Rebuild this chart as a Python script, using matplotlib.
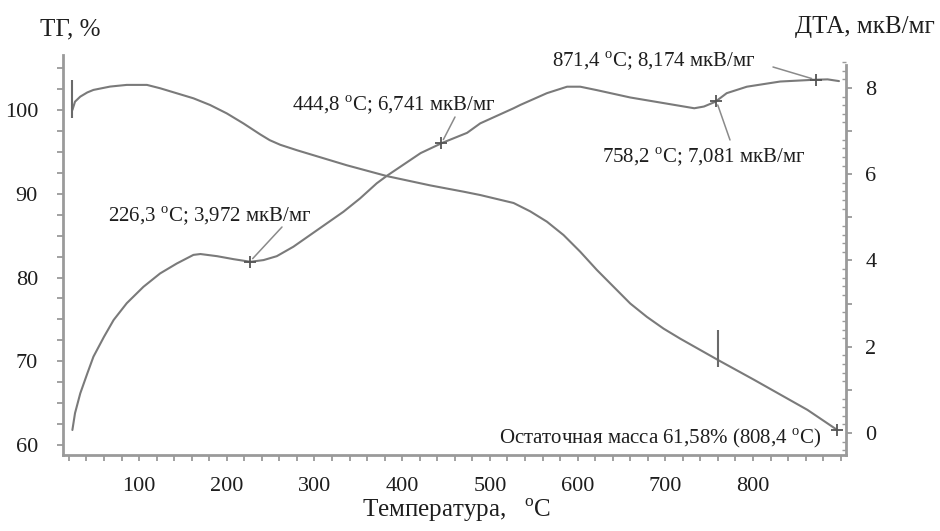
import numpy as np
import matplotlib
matplotlib.use("Agg")
import matplotlib.pyplot as plt
from matplotlib.ticker import MultipleLocator, FuncFormatter

plt.rcParams['font.family'] = ['Liberation Serif', 'DejaVu Serif']
plt.rcParams['mathtext.fontset'] = 'custom'
plt.rcParams['mathtext.rm'] = 'Liberation Serif'

# ---- data ----
T_tg = [24, 27, 33, 41, 48, 67, 86, 109, 124, 162, 181, 200, 219, 238, 249, 261,
        280, 299, 337, 383, 432, 470, 489, 527, 546, 565, 584, 603, 622, 641,
        660, 679, 698, 717, 761, 801, 862, 896]
tg = [100.0, 101.0, 101.6, 102.1, 102.4, 102.8, 103.0, 103.0, 102.6, 101.4,
      100.6, 99.6, 98.4, 97.1, 96.4, 95.85, 95.2, 94.6, 93.4, 92.1, 91.0,
      90.25, 89.85, 88.9, 87.9, 86.67, 85.07, 83.08, 80.9, 78.9, 76.9, 75.3,
      73.9, 72.7, 70.1, 67.8, 64.2, 61.8]

T_dta = [24, 27, 33, 41, 48, 60, 71, 86, 105, 124, 143, 162, 170, 189, 208,
         227, 242, 257, 276, 295, 314, 333, 352, 371, 383, 421, 446, 474, 489,
         527, 535, 565, 588, 603, 622, 660, 698, 733, 744, 757, 770, 793, 831,
         869, 885, 898]
dta = [0.07, 0.46, 0.92, 1.38, 1.77, 2.23, 2.62, 3.01, 3.39, 3.70, 3.93, 4.13,
       4.15, 4.10, 4.03, 3.97, 4.01, 4.10, 4.32, 4.59, 4.86, 5.13, 5.44, 5.79,
       5.97, 6.49, 6.73, 6.96, 7.18, 7.53, 7.61, 7.88, 8.03, 8.03, 7.95, 7.78,
       7.65, 7.53, 7.57, 7.68, 7.88, 8.03, 8.15, 8.19, 8.20, 8.16]

dta_peak_T = [226.3, 444.8, 758.2, 871.4]
dta_peak_labels = ["226,3 $^{\\rm o}$C; 3,972 мкВ/мг",
                   "444,8 $^{\\rm o}$C; 6,741 мкВ/мг",
                   "758,2 $^{\\rm o}$C; 7,081 мкВ/мг",
                   "871,4 $^{\\rm o}$C; 8,174 мкВ/мг"]
tg_step_T = [24, 760]
residual_T = 896
residual_label = "Остаточная масса 61,58% (808,4 $^{\\rm o}$C)"

x_ticks = [100, 200, 300, 400, 500, 600, 700, 800]
tg_ticks = [60, 70, 80, 90, 100]
dta_ticks = [0, 1, 2, 3, 4, 5, 6, 7, 8]

# ---- figure ----
W, H = 940, 531
fig = plt.figure(figsize=(W / 100, H / 100), dpi=100)
ax = fig.add_axes([63 / W, 1 - 455 / H, (846 - 63) / W, (455 - 55) / H])
ax2 = ax.twinx()

curve_c = '#7a7a7a'
spine_c = '#9a9a9a'
text_c = '#1e1e1e'

ax.set_xlim(13.3, 906)
ax.set_ylim(58.81, 106.57)
ax2.set_ylim(-0.51, 8.765)

ax.plot(T_tg, tg, color=curve_c, lw=1.5, solid_capstyle='round', solid_joinstyle='round')
ax2.plot(T_dta, dta, color=curve_c, lw=1.5, solid_capstyle='round', solid_joinstyle='round')

# vertical step markers on TG
for t in tg_step_T:
    v = np.interp(t, T_tg, tg)
    ax.vlines(t, v - 0.9, v + 3.6, color='#6a6a6a', lw=1.5)

# + markers on DTA
pk_vals = [np.interp(t, T_dta, dta) for t in dta_peak_T]
ax2.plot(dta_peak_T, pk_vals, ls='none', marker='+', ms=8, mew=1.3, color='#555555')
rv = np.interp(residual_T, T_tg, tg)
ax.plot([residual_T], [rv], ls='none', marker='+', ms=8, mew=1.3, color='#555555')

# spines
for s in ['top', 'right']:
    ax.spines[s].set_visible(False)
for s in ['top', 'left', 'bottom']:
    ax2.spines[s].set_visible(False)
for sp in [ax.spines['left'], ax.spines['bottom'], ax2.spines['right']]:
    sp.set_color(spine_c)
    sp.set_linewidth(2.0)
ax2.spines['right'].set_bounds(-0.51, 8.53)

# ticks
ax.set_xticks(x_ticks)
ax.xaxis.set_minor_locator(MultipleLocator(20))
ax.set_yticks(tg_ticks)
ax.yaxis.set_minor_locator(MultipleLocator(2.5))
ax.tick_params(axis='both', which='both', direction='out', color=spine_c,
               width=1.3, labelsize=16, labelcolor=text_c)
ax.tick_params(axis='both', which='major', length=4)
ax.tick_params(axis='both', which='minor', length=4)
ax.tick_params(axis='x', pad=12)
ax.tick_params(axis='y', pad=14)

ax2.set_yticks(dta_ticks)
ax2.yaxis.set_major_formatter(FuncFormatter(lambda v, p: f"{int(round(v))}" if int(round(v)) % 2 == 0 else ""))
ax2.yaxis.set_minor_locator(MultipleLocator(0.2))
ax2.tick_params(axis='y', which='major', direction='out', length=4, width=1.3,
                color=spine_c, labelsize=16, labelcolor=text_c, pad=10)
ax2.tick_params(axis='y', which='minor', direction='in', length=3, width=1.0,
                color=spine_c)

# axis titles
fig.text(40, H - 35, "ТГ, %", fontsize=18, color=text_c,
         transform=None, ha='left', va='baseline')
fig.text(935, H - 33, "ДТА, мкВ/мг", fontsize=18, color=text_c,
         transform=None, ha='right', va='baseline')
fig.text(457, H - 517, "Температура,   $^{\\rm o}$C", fontsize=18, color=text_c,
         transform=None, ha='center', va='baseline')

# annotations (text position in pixels, leader to the data point)
text_px = [(108, 221), (292, 110), (602, 162), (552, 66)]
lead_px = [(282, 227), (455, 117), (730, 140), (773, 67)]
for t, v, lab, (tx, ty), (lx, ly) in zip(dta_peak_T, pk_vals, dta_peak_labels, text_px, lead_px):
    fig.text(tx, H - ty, lab, fontsize=15, color=text_c, transform=None,
             ha='left', va='baseline')
    ax2.annotate('', xy=(t, v), xycoords='data',
                 xytext=(lx, H - ly), textcoords='figure pixels',
                 arrowprops=dict(arrowstyle='-', color='#8a8a8a', lw=1.1,
                                 shrinkA=0, shrinkB=3))

fig.text(821, H - 443, residual_label, fontsize=15, color=text_c,
         transform=None, ha='right', va='baseline')

fig.savefig("out.png", dpi=100)
